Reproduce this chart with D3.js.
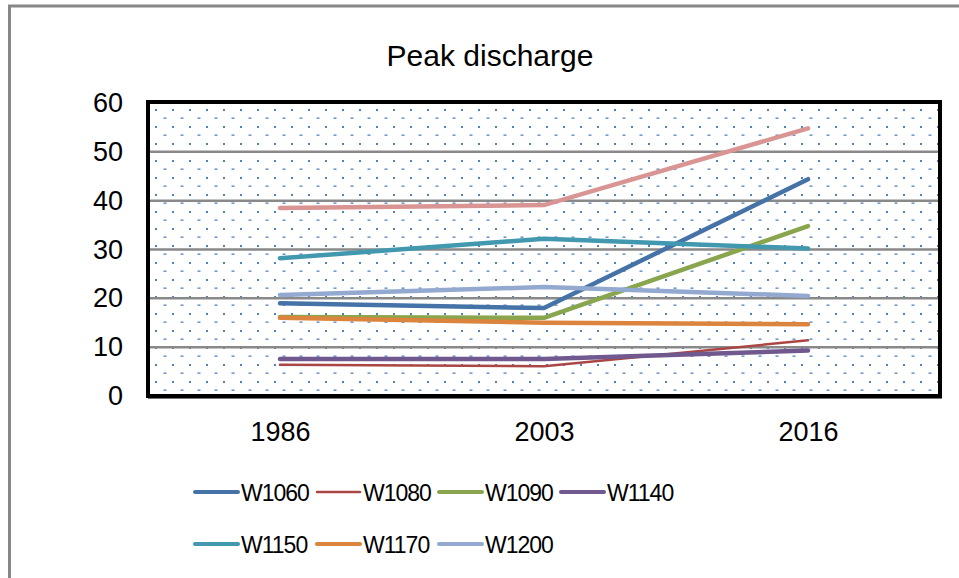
<!DOCTYPE html>
<html>
<head>
<meta charset="utf-8">
<script src="https://cdn.jsdelivr.net/npm/d3@7"></script>
<style>
  body { margin: 0; background: #fff; }
  text { font-family: "Liberation Sans", Arial, sans-serif; fill: #000; }
</style>
</head>
<body>
<div id="chart"></div>
<script>
// categories and series
let years = ["1986", "2003", "2016"]
let seriesNames = ["W1060", "W1080", "W1090", "W1140", "W1150", "W1170", "W1200"]
let seriesColors = ["#4572A7", "#AA4643", "#89A54E", "#71588F", "#4198AF", "#DB843D", "#93A9CF"]
let w1060 = [19.0, 18.0, 44.4]
let w1080 = [6.4, 6.1, 11.4]
let w1090 = [16.2, 16.0, 34.8]
let w1140 = [7.6, 7.6, 9.3]
let w1150 = [28.2, 32.2, 30.2]
let w1170 = [16.0, 15.0, 14.7]
let w1200 = [20.7, 22.3, 20.5]
// extra series drawn in the chart but missing from the legend
let unlabeled = [38.5, 39.1, 54.8]
let unlabeledColor = "#D89593"
let yTicks = [0, 10, 20, 30, 40, 50, 60]

let svg_width = 959
let svg_height = 578
let plotLeft = 148, plotRight = 940, plotTop = 102, plotBottom = 396

let seriesValues = [w1060, w1080, w1090, w1140, w1150, w1170, w1200]

let svg = d3.select("#chart")
  .append("svg")
  .attr("width", svg_width)
  .attr("height", svg_height)

// dotted fill of the plot area
let defs = svg.append("defs")
let pat = defs.append("pattern")
  .attr("id", "dots")
  .attr("patternUnits", "userSpaceOnUse")
  .attr("x", 155).attr("y", 109)
  .attr("width", 17).attr("height", 17)
pat.append("rect").attr("x", 0).attr("y", 0).attr("width", 2).attr("height", 2).attr("fill", "#4F81BD")
pat.append("rect").attr("x", 8.5).attr("y", 8.5).attr("width", 3).attr("height", 1.3).attr("fill", "#4F81BD")

// outer chart border
svg.append("rect")
  .attr("x", 9.5).attr("y", 6)
  .attr("width", 980).attr("height", 600)
  .attr("fill", "#fff")
  .attr("stroke", "#878787")
  .attr("stroke-width", 3)

// title
svg.append("text")
  .attr("x", 490).attr("y", 66)
  .attr("text-anchor", "middle")
  .style("font-size", "30px")
  .text("Peak discharge")

let xScale = d3.scalePoint()
  .domain(years)
  .range([plotLeft, plotRight])
  .padding(0.5)

let yScale = d3.scaleLinear()
  .domain([0, 60])
  .range([plotBottom, plotTop + 1])

svg.append("rect")
  .attr("x", plotLeft).attr("y", plotTop)
  .attr("width", plotRight - plotLeft).attr("height", plotBottom - plotTop)
  .attr("fill", "url(#dots)")

// gridlines
svg.append("g")
  .selectAll("line")
  .data(yTicks.filter(d => d > 0 && d < 60))
  .enter()
  .append("line")
  .attr("x1", plotLeft).attr("x2", plotRight)
  .attr("y1", d => yScale(d)).attr("y2", d => yScale(d))
  .attr("stroke", "#898989")
  .attr("stroke-width", 2.5)

// y axis labels
let yAxis = d3.axisLeft(yScale).tickValues(yTicks).tickSize(0).tickPadding(25)
let yg = svg.append("g")
  .attr("transform", `translate(${plotLeft},0)`)
  .call(yAxis)
yg.select(".domain").remove()
yg.selectAll("text").style("font-size", "27px").style("font-family", "'Liberation Sans', Arial, sans-serif")

// x axis labels
let xAxis = d3.axisBottom(xScale).tickSize(0).tickPadding(26)
let xg = svg.append("g")
  .attr("transform", `translate(0,${plotBottom})`)
  .call(xAxis)
xg.select(".domain").remove()
xg.selectAll("text").style("font-size", "27px").style("font-family", "'Liberation Sans', Arial, sans-serif")

let line = d3.line()
  .x((d, i) => xScale(years[i]))
  .y(d => yScale(d))

// the unlabeled series
svg.append("path")
  .datum(unlabeled)
  .attr("d", line)
  .attr("fill", "none")
  .attr("stroke", unlabeledColor)
  .attr("stroke-width", 4.5)
  .attr("stroke-linecap", "round")

svg.append("g")
  .selectAll("path")
  .data(seriesValues)
  .enter()
  .append("path")
  .attr("d", line)
  .attr("fill", "none")
  .attr("stroke", (d, i) => seriesColors[i])
  .attr("stroke-width", (d, i) => i == 1 ? 2.5 : 4.5)
  .attr("stroke-linecap", "round")
  .attr("stroke-linejoin", "round")

// plot area border (with grey axis shadow at the bottom)
svg.append("line")
  .attr("x1", plotLeft).attr("x2", plotRight + 2)
  .attr("y1", plotBottom + 1.5).attr("y2", plotBottom + 1.5)
  .attr("stroke", "#777").attr("stroke-width", 3)
svg.append("rect")
  .attr("x", plotLeft).attr("y", plotTop)
  .attr("width", plotRight - plotLeft).attr("height", plotBottom - plotTop)
  .attr("fill", "none")
  .attr("stroke", "#000")
  .attr("stroke-width", 4)

// legend
let legend = svg.append("g")
  .selectAll("g")
  .data(seriesNames)
  .enter()
  .append("g")
  .attr("transform", (d, i) => `translate(${195 + (i % 4) * 122},${i < 4 ? 492 : 544})`)

legend.append("line")
  .attr("x1", 0).attr("x2", 43)
  .attr("stroke", (d, i) => seriesColors[i])
  .attr("stroke-width", (d, i) => i == 1 ? 2.5 : 4)
  .attr("stroke-linecap", "round")

legend.append("text")
  .attr("x", 46).attr("y", 8.5)
  .style("font-size", "23px")
  .style("letter-spacing", "-1px")
  .text(d => d)
</script>
</body>
</html>
